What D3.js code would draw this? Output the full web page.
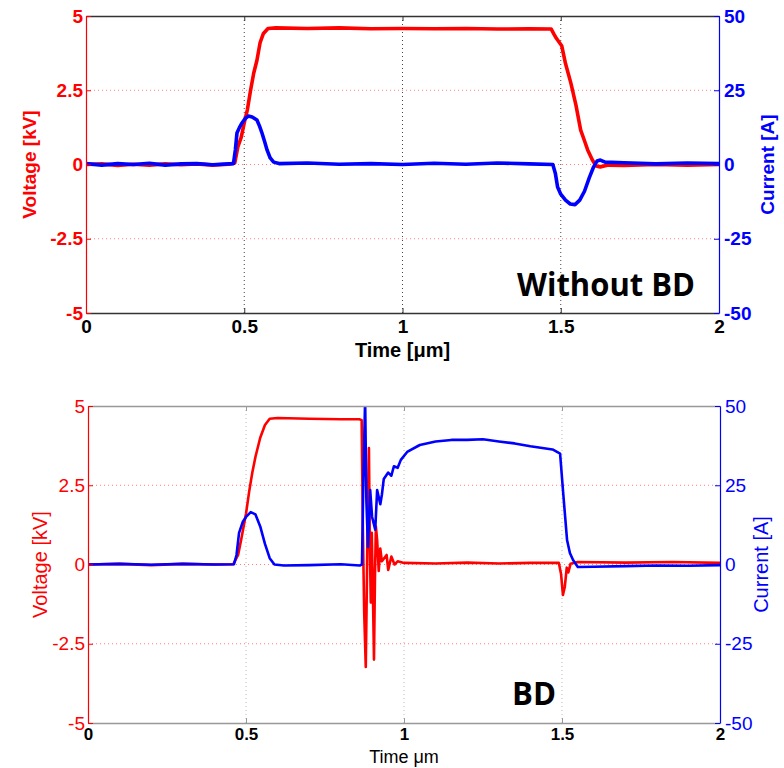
<!DOCTYPE html>
<html>
<head>
<meta charset="utf-8">
<script src="https://cdn.jsdelivr.net/npm/d3@7/dist/d3.min.js"></script>
<style>
  body { margin: 0; background: #fff; }
  svg text { font-family: "Liberation Sans", Arial, sans-serif; }
</style>
</head>
<body>
<svg id="chart" width="784" height="768"></svg>
<script>
// time axis, microseconds
const timeTicks = [0, 0.5, 1, 1.5, 2];
const timeTickLabels = ['0', '0.5', '1', '1.5', '2'];
const voltTicks = [-5, -2.5, 0, 2.5, 5];
const voltTickLabels = ['-5', '-2.5', '0', '2.5', '5'];
const currTicks = [-50, -25, 0, 25, 50];
const currTickLabels = ['-50', '-25', '0', '25', '50'];

// [time, kV] -- pulse without breakdown
const voltNoBD = [
  [0, 0], [0.05, 0.02], [0.1, -0.03], [0.15, 0.01], [0.2, -0.02], [0.25, 0.02],
  [0.3, -0.01], [0.35, 0.02], [0.4, -0.02], [0.45, 0.01], [0.47, 0.05], [0.48, 0.6],
  [0.49, 0.9], [0.5, 1.4], [0.51, 1.85], [0.52, 2.5], [0.53, 3.08], [0.54, 3.5],
  [0.55, 4.1], [0.56, 4.4], [0.575, 4.58], [0.6, 4.6], [0.7, 4.58], [0.8, 4.6],
  [0.9, 4.57], [1.0, 4.58], [1.1, 4.57], [1.2, 4.58], [1.3, 4.56], [1.4, 4.57],
  [1.47, 4.56], [1.478, 4.4], [1.486, 4.25], [1.503, 4.0], [1.515, 3.4], [1.532, 2.74],
  [1.548, 2.0], [1.563, 1.16], [1.575, 0.8], [1.585, 0.49], [1.6, 0.15], [1.612, -0.05],
  [1.625, -0.08], [1.65, -0.02], [1.7, -0.03], [1.8, 0], [1.9, -0.02], [2.0, 0]
];

// [time, A] -- pulse without breakdown
const currNoBD = [
  [0, 0.3], [0.05, -0.2], [0.1, 0.3], [0.15, 0], [0.2, 0.4], [0.25, -0.2], [0.3, 0.2],
  [0.35, 0.3], [0.4, -0.1], [0.45, 0.2], [0.466, 0.3], [0.472, 5], [0.477, 10.6],
  [0.485, 12.5], [0.493, 14], [0.503, 15.5], [0.513, 16.3], [0.525, 16], [0.54, 15],
  [0.548, 13], [0.556, 10.6], [0.565, 7.5], [0.572, 4.9], [0.582, 2.2], [0.593, 0.8],
  [0.61, 0.3], [0.7, 0.5], [0.8, 0.1], [0.9, 0.3], [1.0, 0], [1.1, 0.4], [1.2, 0.1],
  [1.3, 0.5], [1.4, 0.2], [1.475, 0], [1.483, -3], [1.49, -7.6], [1.5, -10], [1.515, -12],
  [1.53, -13.3], [1.545, -13.5], [1.56, -12], [1.575, -9], [1.59, -4.5], [1.603, -1],
  [1.615, 1.2], [1.625, 1.5], [1.64, 0.8], [1.7, 0.6], [1.8, 0.2], [1.9, 0.5], [2.0, 0.3]
];

// [time, kV] -- breakdown shot
const voltBD = [
  [0, 0], [0.1, 0.02], [0.2, -0.02], [0.3, 0.02], [0.4, 0], [0.46, 0.01], [0.475, 0.3],
  [0.485, 0.8], [0.5, 1.6], [0.51, 2.3], [0.52, 2.9], [0.53, 3.4], [0.545, 4.0],
  [0.56, 4.4], [0.575, 4.6], [0.6, 4.62], [0.7, 4.6], [0.8, 4.58], [0.86, 4.58],
  [0.866, 4.55], [0.87, 1.0], [0.874, -1.5], [0.879, -3.23], [0.882, -1.0], [0.885, 1.5],
  [0.889, 3.67], [0.892, 0.5], [0.895, -1.2], [0.898, 1.0], [0.901, -0.5], [0.905, -3.0],
  [0.908, -0.5], [0.911, 1.2], [0.915, 0.77], [0.92, -0.2], [0.925, 0.5], [0.93, 0.1],
  [0.945, 0.3], [0.95, -0.17], [0.96, 0.25], [0.97, 0.0], [0.98, 0.1], [1.0, 0.05],
  [1.1, 0.03], [1.2, 0.06], [1.3, 0.03], [1.4, 0.05], [1.49, 0.05], [1.497, -0.3],
  [1.503, -0.96], [1.509, -0.7], [1.515, -0.1], [1.52, -0.25], [1.527, 0.02], [1.55, 0.08],
  [1.7, 0.06], [1.85, 0.08], [2.0, 0.05]
];

// [time, A] -- breakdown shot
const currBD = [
  [0, 0], [0.1, 0.2], [0.2, -0.1], [0.3, 0.2], [0.4, 0], [0.462, 0.1], [0.47, 3],
  [0.478, 10], [0.49, 13.5], [0.5, 15], [0.515, 16.5], [0.53, 15.8], [0.545, 12],
  [0.56, 6.5], [0.575, 2], [0.59, 0], [0.62, -0.3], [0.7, -0.2], [0.8, 0.1], [0.86, -0.3],
  [0.867, 0], [0.872, 30], [0.877, 52], [0.881, 20], [0.886, 5.5], [0.893, 23.5],
  [0.899, 15], [0.909, 11], [0.915, 23.5], [0.925, 19], [0.93, 22], [0.936, 27], [0.95, 29],
  [0.96, 28], [0.968, 31], [0.98, 30.5], [0.99, 33], [1.01, 35.5], [1.05, 37.7], [1.1, 38.8],
  [1.15, 39.3], [1.2, 39.3], [1.25, 39.5], [1.3, 38.8], [1.35, 38.2], [1.4, 37.3],
  [1.47, 36.3], [1.494, 35], [1.503, 23.5], [1.516, 7.7], [1.525, 3.6], [1.535, 1.4],
  [1.55, -0.8], [1.6, -0.7], [1.7, -0.5], [1.8, -0.3], [1.9, -0.4], [2.0, -0.2]
];

const svg = d3.select('#chart');
svg.append('rect').attr('width', 784).attr('height', 768).attr('fill', '#fff');

const RED = '#ff0000', BLUE = '#0000ff';

const panels = [
  {
    id: 'top', left: 86, right: 719, top: 16, bottom: 313,
    volt: voltNoBD, curr: currNoBD, lw: 3.6, bold: true,
    frame: '#333', vgrid: '#444', tickSize: 19, xTickSize: 19, xTickPad: 7,
    xTitle: 'Time [\u03bcm]', xTitleDy: 44, xTitleSize: 20,
    yTitleX: 36, y2TitleX: 774, yTitleSize: 19,
    note: 'Without BD', noteX: 517, noteY: 296, noteLen: 178
  },
  {
    id: 'bottom', left: 88, right: 720, top: 406, bottom: 723,
    volt: voltBD, curr: currBD, lw: 2.6, bold: false,
    frame: '#999', vgrid: '#bbb', tickSize: 19, xTickSize: 17, xTickPad: 5,
    xTitle: 'Time \u03bcm', xTitleDy: 40, xTitleSize: 18,
    yTitleX: 47, y2TitleX: 768, yTitleSize: 20,
    note: 'BD', noteX: 512, noteY: 705, noteLen: 44
  }
];

panels.forEach(p => {
  const x = d3.scaleLinear().domain([0, 2]).range([p.left, p.right]);
  const yV = d3.scaleLinear().domain([-5, 5]).range([p.bottom, p.top]);
  const yI = d3.scaleLinear().domain([-50, 50]).range([p.bottom, p.top]);
  const g = svg.append('g').attr('class', 'panel-' + p.id);
  const weight = p.bold ? 'bold' : 'normal';

  // grid
  g.selectAll('.hgrid').data(voltTicks.slice(1, -1)).join('line')
    .attr('x1', p.left).attr('x2', p.right)
    .attr('y1', d => yV(d)).attr('y2', d => yV(d))
    .attr('stroke', '#ff8080').attr('stroke-width', 1)
    .attr('stroke-dasharray', '1,3');
  g.selectAll('.vgrid').data(timeTicks.slice(1, -1)).join('line')
    .attr('x1', d => x(d)).attr('x2', d => x(d))
    .attr('y1', p.top).attr('y2', p.bottom)
    .attr('stroke', p.vgrid).attr('stroke-width', 1)
    .attr('stroke-dasharray', '1,3');

  // traces
  const clipId = 'clip-' + p.id;
  svg.append('clipPath').attr('id', clipId).append('rect')
    .attr('x', p.left).attr('y', p.top)
    .attr('width', p.right - p.left).attr('height', p.bottom - p.top);

  const lineV = d3.line().x(d => x(d[0])).y(d => yV(d[1]));
  const lineI = d3.line().x(d => x(d[0])).y(d => yI(d[1]));
  const traces = g.append('g').attr('clip-path', `url(#${clipId})`);
  traces.append('path').datum(p.volt).attr('d', lineV)
    .attr('fill', 'none').attr('stroke', RED).attr('stroke-width', p.lw)
    .attr('stroke-linejoin', 'round');
  traces.append('path').datum(p.curr).attr('d', lineI)
    .attr('fill', 'none').attr('stroke', BLUE).attr('stroke-width', p.lw)
    .attr('stroke-linejoin', 'round');

  // axes
  const gx = g.append('g').attr('transform', `translate(0,${p.bottom})`)
    .call(d3.axisBottom(x).tickValues(timeTicks).tickSizeInner(-5).tickSizeOuter(0)
      .tickPadding(p.xTickPad).tickFormat((d, i) => timeTickLabels[i]));
  gx.select('.domain').attr('stroke', p.frame).attr('stroke-width', 1.5);
  gx.selectAll('.tick line').attr('stroke', p.frame);
  gx.selectAll('.tick text').attr('fill', '#000').attr('font-size', p.xTickSize)
    .attr('font-weight', 'bold').attr('dy', '0.71em');

  const gxt = g.append('g').attr('transform', `translate(0,${p.top})`)
    .call(d3.axisTop(x).tickValues(timeTicks).tickSizeInner(-5).tickSizeOuter(0).tickFormat(''));
  gxt.select('.domain').attr('stroke', p.frame).attr('stroke-width', 1.5);
  gxt.selectAll('.tick line').attr('stroke', p.frame);

  const gyL = g.append('g').attr('transform', `translate(${p.left},0)`)
    .call(d3.axisLeft(yV).tickValues(voltTicks).tickSizeInner(-5).tickSizeOuter(0)
      .tickPadding(4).tickFormat((d, i) => voltTickLabels[i]));
  gyL.select('.domain').attr('stroke', RED).attr('stroke-width', 1.2);
  gyL.selectAll('.tick line').attr('stroke', RED);
  gyL.selectAll('.tick text').attr('fill', RED).attr('font-size', p.tickSize)
    .attr('font-weight', weight).attr('x', -3);

  const gyR = g.append('g').attr('transform', `translate(${p.right},0)`)
    .call(d3.axisRight(yI).tickValues(currTicks).tickSizeInner(-5).tickSizeOuter(0)
      .tickPadding(4).tickFormat((d, i) => currTickLabels[i]));
  gyR.select('.domain').attr('stroke', BLUE).attr('stroke-width', 1.2);
  gyR.selectAll('.tick line').attr('stroke', BLUE);
  gyR.selectAll('.tick text').attr('fill', BLUE).attr('font-size', p.tickSize)
    .attr('font-weight', weight).attr('x', 5);

  // titles
  const midY = (p.top + p.bottom) / 2;
  g.append('text').text(p.xTitle)
    .attr('x', (p.left + p.right) / 2).attr('y', p.bottom + p.xTitleDy)
    .attr('text-anchor', 'middle').attr('font-size', p.xTitleSize)
    .attr('font-weight', weight).attr('fill', '#000');
  g.append('text').text('Voltage [kV]')
    .attr('transform', `translate(${p.yTitleX},${midY}) rotate(-90)`)
    .attr('text-anchor', 'middle').attr('font-size', p.yTitleSize)
    .attr('font-weight', weight).attr('fill', RED);
  g.append('text').text('Current [A]')
    .attr('transform', `translate(${p.y2TitleX},${midY}) rotate(-90)`)
    .attr('text-anchor', 'middle').attr('font-size', p.yTitleSize)
    .attr('font-weight', weight).attr('fill', BLUE);

  g.append('text').text(p.note)
    .attr('x', p.noteX).attr('y', p.noteY)
    .style('font-family', '"Open Sans", sans-serif')
    .attr('font-size', 32).attr('font-weight', 'bold').attr('fill', '#000')
    .attr('textLength', p.noteLen).attr('lengthAdjust', 'spacingAndGlyphs');
});
</script>
</body>
</html>
